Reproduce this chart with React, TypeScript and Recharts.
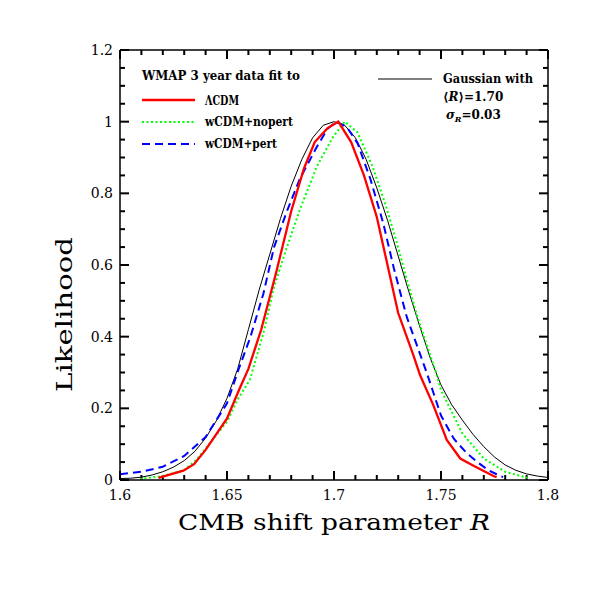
import React from "react";
import { LineChart, Line, XAxis, YAxis, ReferenceLine, Customized } from "recharts";

// ---- data ----
const gaussX = [
  1.6, 1.605, 1.61, 1.615, 1.62, 1.625, 1.63, 1.635, 1.64, 1.645, 1.65, 1.655, 1.66, 1.665, 1.67,
  1.675, 1.68, 1.685, 1.69, 1.695, 1.7, 1.705, 1.71, 1.715, 1.72, 1.725, 1.73, 1.735, 1.74, 1.745,
  1.75, 1.755, 1.76, 1.765, 1.77, 1.775, 1.78, 1.785, 1.79, 1.795, 1.8,
];
const gaussY = [
  0.004, 0.005, 0.008, 0.014, 0.023, 0.036, 0.054, 0.08, 0.117, 0.165, 0.228, 0.31, 0.42, 0.53,
  0.63, 0.73, 0.82, 0.895, 0.955, 0.99, 1.0, 0.99, 0.955, 0.895, 0.815, 0.725, 0.625, 0.525, 0.43,
  0.34, 0.265, 0.21, 0.167, 0.127, 0.093, 0.064, 0.042, 0.027, 0.017, 0.011, 0.007,
];

const lcdmX = [
  1.618, 1.6296, 1.6346, 1.64, 1.65, 1.6556, 1.66, 1.666, 1.673, 1.68, 1.686, 1.691, 1.697, 1.702,
  1.708, 1.714, 1.72, 1.725, 1.73, 1.737, 1.7402, 1.7464, 1.7527, 1.759, 1.7652, 1.7745, 1.776,
];
const lcdmY = [
  0.006, 0.026, 0.044, 0.084, 0.172, 0.251, 0.31, 0.42, 0.58, 0.75, 0.87, 0.943, 0.982, 1.0, 0.943,
  0.85, 0.734, 0.6, 0.466, 0.35, 0.293, 0.209, 0.112, 0.06, 0.04, 0.011, 0.008,
];

const nopertX = [
  1.6093, 1.62, 1.63, 1.6357, 1.64, 1.65, 1.655, 1.6607, 1.667, 1.672, 1.678, 1.684, 1.692, 1.6995,
  1.705, 1.711, 1.718, 1.724, 1.729, 1.734, 1.739, 1.7473, 1.75, 1.76, 1.77, 1.78, 1.7905,
];
const nopertY = [
  0.003, 0.011, 0.028, 0.056, 0.088, 0.163, 0.225, 0.28, 0.41, 0.54, 0.65, 0.754, 0.875, 0.957, 1.0,
  0.97, 0.875, 0.77, 0.67, 0.56, 0.455, 0.307, 0.251, 0.13, 0.06, 0.023, 0.006,
];

const pertX = [
  1.6, 1.61, 1.62, 1.63, 1.64, 1.65, 1.6553, 1.661, 1.667, 1.672, 1.678, 1.684, 1.692, 1.697, 1.701,
  1.706, 1.711, 1.717, 1.723, 1.728, 1.734, 1.7433, 1.75, 1.756, 1.762, 1.767, 1.772, 1.776, 1.779,
];
const pertY = [
  0.016, 0.023, 0.037, 0.067, 0.12, 0.214, 0.307, 0.4, 0.52, 0.65, 0.75, 0.84, 0.93, 0.98, 1.0, 0.985,
  0.94, 0.84, 0.717, 0.59, 0.455, 0.3, 0.18, 0.115, 0.075, 0.05, 0.028, 0.016, 0.008,
];

const xMinorTicks = [
  1.6, 1.61, 1.62, 1.63, 1.64, 1.65, 1.66, 1.67, 1.68, 1.69, 1.7, 1.71, 1.72, 1.73, 1.74, 1.75,
  1.76, 1.77, 1.78, 1.79, 1.8,
];
const xMajorTicks = [1.6, 1.65, 1.7, 1.75, 1.8];
const xMajorLabels = ["1.6", "1.65", "1.7", "1.75", "1.8"];
const yMinorTicks = [
  0, 0.05, 0.1, 0.15, 0.2, 0.25, 0.3, 0.35, 0.4, 0.45, 0.5, 0.55, 0.6, 0.65, 0.7, 0.75, 0.8, 0.85,
  0.9, 0.95, 1.0, 1.05, 1.1, 1.15, 1.2,
];
const yMajorTicks = [0, 0.2, 0.4, 0.6, 0.8, 1.0, 1.2];
const yMajorLabels = ["0", "0.2", "0.4", "0.6", "0.8", "1", "1.2"];

const X_DOMAIN: [number, number] = [1.6, 1.8];
const Y_DOMAIN: [number, number] = [0, 1.2];

const toPts = (xs: number[], ys: number[]) => xs.map((x, i) => ({ x, y: ys[i] }));
const gaussData = toPts(gaussX, gaussY);
const lcdmData = toPts(lcdmX, lcdmY);
const nopertData = toPts(nopertX, nopertY);
const pertData = toPts(pertX, pertY);

// plot-area size in px, used only to express tick lengths in axis units
const PLOT_W = 428;
const PLOT_H = 430;
const MAJ_PX = 9;
const MIN_PX = 5;
const xUnitPerPx = (X_DOMAIN[1] - X_DOMAIN[0]) / PLOT_W;
const yUnitPerPx = (Y_DOMAIN[1] - Y_DOMAIN[0]) / PLOT_H;

const isMajor = (v: number, majors: number[]) => majors.some((m) => Math.abs(m - v) < 1e-6);

const FONT = "'DejaVu Serif', serif";
const TICK_STROKE = "#000";
const TICK_W = 2;
const AXIS_STYLE = { stroke: "#000", strokeWidth: 1.5 };
const LABEL_STYLE = { fill: "#000", fontFamily: FONT, fontSize: 14 };

const fmt = (majors: number[], labels: string[]) => (v: any) => {
  const i = majors.findIndex((m) => Math.abs(m - Number(v)) < 1e-6);
  return i >= 0 ? labels[i] : "";
};
const blank = () => "";

const Annotations = () => (
  <g>
    {/* axis titles */}
    <text x={178} y={530} fontFamily={FONT} fontSize={23} fill="#000" textLength={312} lengthAdjust="spacingAndGlyphs">
      CMB shift parameter <tspan fontStyle="italic">R</tspan>
    </text>
    <text x={0} y={0} transform="translate(72,314.5) rotate(-90)" textAnchor="middle" fontFamily={FONT}
      fontSize={23} fill="#000" textLength={155} lengthAdjust="spacingAndGlyphs">
      Likelihood
    </text>
    {/* left legend */}
    <text x={142} y={80} fontFamily={FONT} fontWeight="bold" fontSize={12} fill="#000" textLength={158} lengthAdjust="spacingAndGlyphs">
      WMAP 3 year data fit to
    </text>
    <line x1={142} y1={100} x2={195} y2={100} stroke="#ff0000" strokeWidth={2.3} />
    <text x={205} y={105} fontFamily={FONT} fontWeight="bold" fontSize={12} fill="#000" textLength={34} lengthAdjust="spacingAndGlyphs">
      ΛCDM
    </text>
    <line x1={142} y1={122} x2={195} y2={122} stroke="#00ff00" strokeWidth={2} strokeDasharray="2 2.5" />
    <text x={205} y={126} fontFamily={FONT} fontWeight="bold" fontSize={12} fill="#000" textLength={88} lengthAdjust="spacingAndGlyphs">
      wCDM+nopert
    </text>
    <line x1={142} y1={144} x2={195} y2={144} stroke="#0000ff" strokeWidth={2} strokeDasharray="8 5" />
    <text x={205} y={148} fontFamily={FONT} fontWeight="bold" fontSize={12} fill="#000" textLength={72} lengthAdjust="spacingAndGlyphs">
      wCDM+pert
    </text>
    {/* right legend */}
    <line x1={378} y1={79} x2={432} y2={79} stroke="#000" strokeWidth={1} />
    <text x={443} y={83} fontFamily={FONT} fontWeight="bold" fontSize={12} fill="#000" textLength={90} lengthAdjust="spacingAndGlyphs">
      Gaussian with
    </text>
    <text x={443} y={101} fontFamily={FONT} fontWeight="bold" fontSize={12} fill="#000">
      {"\u27E8"}
      <tspan fontStyle="italic">R</tspan>
      {"\u27E9=1.70"}
    </text>
    <text x={446} y={119} fontFamily={FONT} fontWeight="bold" fontSize={12} fill="#000">
      <tspan fontStyle="italic">σ</tspan>
      <tspan fontStyle="italic" fontSize={8} dy={3}>R</tspan>
      <tspan dy={-3}>=0.03</tspan>
    </text>
  </g>
);

export default function App() {
  const tickSegs: any[] = [];
  xMinorTicks.forEach((v, i) => {
    const len = (isMajor(v, xMajorTicks) ? MAJ_PX : MIN_PX) * yUnitPerPx;
    tickSegs.push(
      <ReferenceLine key={`xb${i}`} xAxisId="b" yAxisId="l" segment={[{ x: v, y: Y_DOMAIN[0] }, { x: v, y: Y_DOMAIN[0] + len }]}
        stroke={TICK_STROKE} strokeWidth={TICK_W} ifOverflow="visible" />,
      <ReferenceLine key={`xt${i}`} xAxisId="b" yAxisId="l" segment={[{ x: v, y: Y_DOMAIN[1] }, { x: v, y: Y_DOMAIN[1] - len }]}
        stroke={TICK_STROKE} strokeWidth={TICK_W} ifOverflow="visible" />
    );
  });
  yMinorTicks.forEach((v, i) => {
    const len = (isMajor(v, yMajorTicks) ? MAJ_PX : MIN_PX) * xUnitPerPx;
    tickSegs.push(
      <ReferenceLine key={`yl${i}`} xAxisId="b" yAxisId="l" segment={[{ x: X_DOMAIN[0], y: v }, { x: X_DOMAIN[0] + len, y: v }]}
        stroke={TICK_STROKE} strokeWidth={TICK_W} ifOverflow="visible" />,
      <ReferenceLine key={`yr${i}`} xAxisId="b" yAxisId="l" segment={[{ x: X_DOMAIN[1], y: v }, { x: X_DOMAIN[1] - len, y: v }]}
        stroke={TICK_STROKE} strokeWidth={TICK_W} ifOverflow="visible" />
    );
  });

  return (
    <div style={{ position: "absolute", left: 0, top: 0, width: 599, height: 599, background: "#fff" }}>
      <LineChart width={599} height={599} margin={{ top: 49, right: 50, bottom: 118, left: 119 }}>
        <XAxis dataKey="x" type="number" domain={X_DOMAIN} allowDataOverflow xAxisId="b" orientation="bottom"
          height={1} ticks={xMajorTicks} tickSize={0} tickMargin={10}
          tickFormatter={fmt(xMajorTicks, xMajorLabels)} tick={LABEL_STYLE}
          tickLine={false} axisLine={AXIS_STYLE} />
        <XAxis dataKey="x" type="number" domain={X_DOMAIN} allowDataOverflow xAxisId="t" orientation="top"
          height={1} ticks={xMajorTicks} tickSize={0} tickFormatter={blank} tickLine={false} axisLine={AXIS_STYLE} />
        <YAxis type="number" domain={Y_DOMAIN} allowDataOverflow yAxisId="l" orientation="left"
          width={1} ticks={yMajorTicks} tickSize={0} tickMargin={7}
          tickFormatter={fmt(yMajorTicks, yMajorLabels)} tick={LABEL_STYLE}
          tickLine={false} axisLine={AXIS_STYLE} />
        <YAxis type="number" domain={Y_DOMAIN} allowDataOverflow yAxisId="r" orientation="right"
          width={1} ticks={yMajorTicks} tickSize={0} tickFormatter={blank} tickLine={false} axisLine={AXIS_STYLE} />
        {tickSegs}
        <Line xAxisId="b" yAxisId="l" data={gaussData} dataKey="y" type="linear" stroke="#000" strokeWidth={1}
          dot={false} activeDot={false} isAnimationActive={false} />
        <Line xAxisId="b" yAxisId="l" data={nopertData} dataKey="y" type="linear" stroke="#00ff00" strokeWidth={2}
          strokeDasharray="2 2.5" dot={false} activeDot={false} isAnimationActive={false} />
        <Line xAxisId="b" yAxisId="l" data={pertData} dataKey="y" type="linear" stroke="#0000ff" strokeWidth={2}
          strokeDasharray="8 5" dot={false} activeDot={false} isAnimationActive={false} />
        <Line xAxisId="b" yAxisId="l" data={lcdmData} dataKey="y" type="linear" stroke="#ff0000" strokeWidth={2.3}
          dot={false} activeDot={false} isAnimationActive={false} />
        <Customized component={Annotations} />
      </LineChart>
    </div>
  );
}
